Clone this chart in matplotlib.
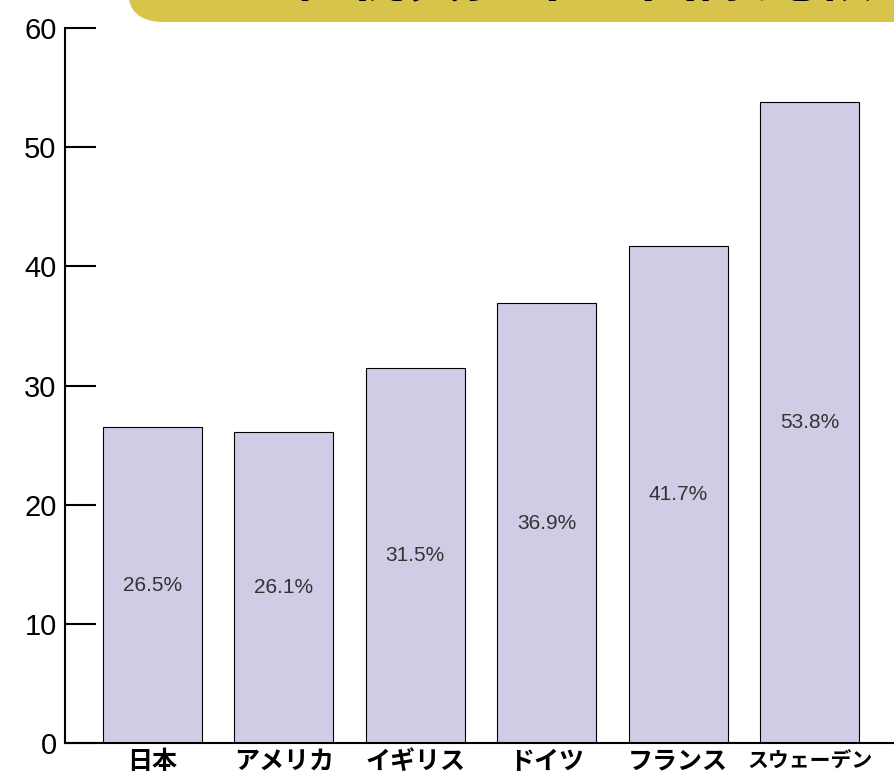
import matplotlib
matplotlib.use("Agg")
import matplotlib.pyplot as plt
from matplotlib.patches import FancyBboxPatch

# データ
countries = ["日本", "アメリカ", "イギリス", "ドイツ", "フランス", "スウェーデン"]
rates = [26.5, 26.1, 31.5, 36.9, 41.7, 53.8]
yticks = [0, 10, 20, 30, 40, 50, 60]
title = "租税負担率の国際比較"

plt.rcParams['font.family'] = ['Noto Sans CJK JP', 'DejaVu Sans']

fig = plt.figure(figsize=(8.95, 7.81), dpi=100)
ax = fig.add_axes([0.0726, 0.0487, 0.9274, 0.9154])

x = range(len(countries))
ax.bar(x, rates, width=0.755, color="#D0CCE6", edgecolor="black", linewidth=0.8)

for i, v in enumerate(rates):
    ax.text(i, v / 2, f"{v}%", ha="center", va="center", fontsize=15,
            family="Liberation Sans", color="#333333")

ax.set_xlim(-0.665, 5.65)
ax.set_ylim(0, 60)
ax.set_yticks(yticks)
ax.set_yticklabels([str(t) for t in yticks], family="Liberation Sans", fontsize=21)
ax.tick_params(axis="y", direction="in", length=22, width=1.5, pad=6)
ax.set_xticks(list(x))
ax.set_xticklabels(countries, fontsize=18, fontweight="bold")
for lbl in ax.get_xticklabels():
    if lbl.get_text() == "スウェーデン":
        lbl.set_fontsize(15)
ax.tick_params(axis="x", length=0, pad=5)

ax.spines["top"].set_visible(False)
ax.spines["right"].set_visible(False)
ax.spines["left"].set_linewidth(1.5)
ax.spines["bottom"].set_linewidth(1.5)

# タイトルの帯
banner = FancyBboxPatch((128 / 895, 759 / 781), 1.0, 0.1,
                        boxstyle="round,pad=0,rounding_size=0.04",
                        transform=fig.transFigure, facecolor="#D8C44A",
                        edgecolor="none", clip_on=False)
fig.patches.append(banner)
fig.text(583 / 895, 772 / 781, title, ha="center", va="bottom",
         fontsize=42, fontweight="bold", color="black")

fig.savefig("out.png", dpi=100)
